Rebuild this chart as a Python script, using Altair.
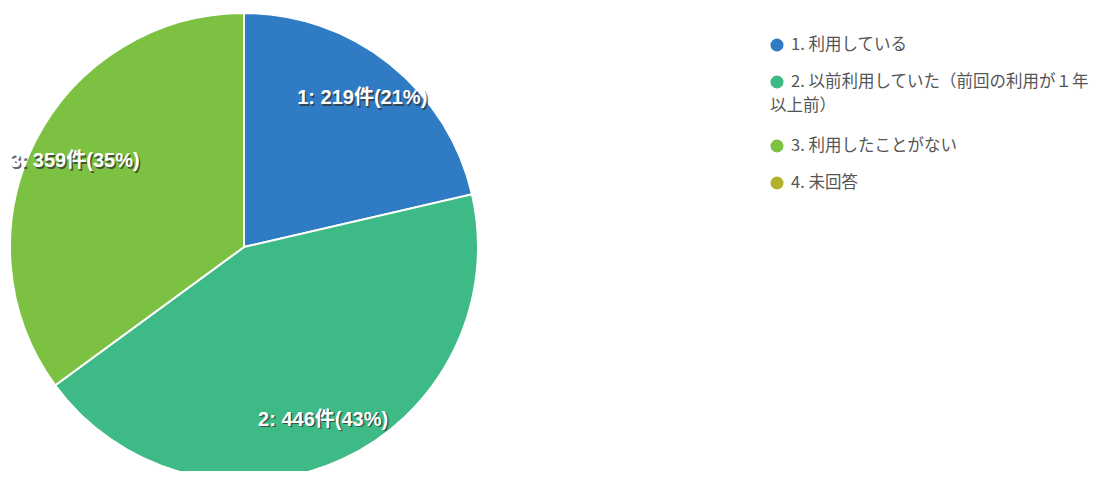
import altair as alt
import pandas as pd

codes = ["1", "2", "3", "4"]
legend_labels = [
    "1. 利用している",
    "2. 以前利用していた（前回の利用が１年|以上前）",
    "3. 利用したことがない",
    "4. 未回答",
]
counts = [219, 446, 359, 0]
percents = [21, 43, 35, 0]
colors = ["#2f7bc4", "#3dba85", "#7cc142", "#b2b12a"]

df = pd.DataFrame({
    "code": codes,
    "cat": legend_labels,
    "count": counts,
    "pct": percents,
    "order": list(range(len(codes))),
})
df["label"] = [
    f"{c}: {n}件({p}%)" if n > 0 else "" for c, n, p in zip(codes, counts, percents)
]

# ---- pie geometry ----
cx, cy, R = 236, 239, 234
label_font = "Liberation Sans, Noto Sans CJK JP"

# ---- legend layout (drawn as layers) ----
LEG_TOP, ITEM_GAP, WRAP_GAP, LINE_GAP = 37, 37, 27, 24
SYM_X, TEXT_X, WRAP_X = 769, 783, 762
LEG_FONT = 16.5

sym_rows, txt_rows = [], []
extra = 0
for i, lab in enumerate(legend_labels):
    parts = lab.split("|")
    y = LEG_TOP + ITEM_GAP * i + WRAP_GAP * extra
    sym_rows.append({"cat": lab, "ly": y, "lx": SYM_X})
    for j, p in enumerate(parts):
        txt_rows.append({"t": p, "ly": y + LINE_GAP * j, "lx": TEXT_X if j == 0 else WRAP_X})
    extra += len(parts) - 1
sym_df = pd.DataFrame(sym_rows)
txt_df = pd.DataFrame(txt_rows)

color_scale = alt.Scale(domain=legend_labels, range=colors)

base = alt.Chart(df).encode(
    theta=alt.Theta("count:Q", stack=True),
    order=alt.Order("order:Q"),
)

pie = base.mark_arc(outerRadius=R, stroke="white", strokeWidth=2).encode(
    x=alt.value(cx),
    y=alt.value(cy),
    color=alt.Color("cat:N", scale=color_scale, legend=None),
)

shadow = base.mark_text(
    radius=190, font=label_font, fontSize=20, fontWeight="bold",
    color="#333333", dx=1.5, dy=1.5, opacity=0.75,
).encode(x=alt.value(cx), y=alt.value(cy), text="label:N")

labels = base.mark_text(
    radius=190, font=label_font, fontSize=20, fontWeight="bold",
    color="white",
).encode(x=alt.value(cx), y=alt.value(cy), text="label:N")

leg_sym = alt.Chart(sym_df).mark_point(
    shape="circle", filled=True, size=170, opacity=1
).encode(
    x=alt.X("lx:Q", scale=None, axis=None),
    y=alt.Y("ly:Q", scale=None, axis=None),
    color=alt.Color("cat:N", scale=color_scale, legend=None),
)

leg_txt = alt.Chart(txt_df).mark_text(
    align="left", baseline="middle", font="Noto Sans CJK JP",
    fontSize=LEG_FONT, color="#555555",
).encode(
    x=alt.X("lx:Q", scale=None, axis=None),
    y=alt.Y("ly:Q", scale=None, axis=None),
    text="t:N",
)

chart = (
    alt.layer(pie, shadow, labels, leg_sym, leg_txt)
    .properties(width=1093, height=463, padding=0,
                autosize=alt.AutoSizeParams(type="none"))
    .configure_view(stroke=None)
)

chart.save("out.html", embed_options={"renderer": "svg", "actions": False})
